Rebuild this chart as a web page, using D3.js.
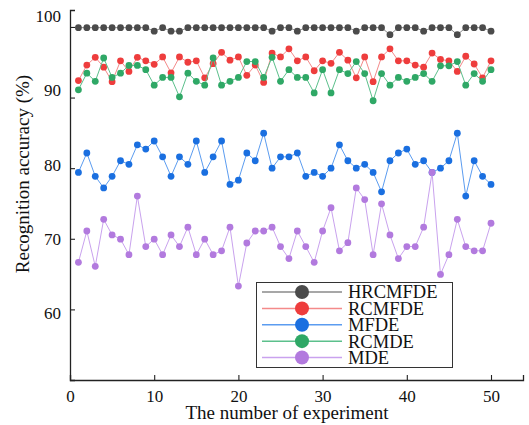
<!DOCTYPE html>
<html>
<head>
<meta charset="utf-8">
<script src="https://cdn.jsdelivr.net/npm/d3@7"></script>
<style>
  html, body { margin: 0; padding: 0; background: #fff; }
  svg { display: block; font-family: "Liberation Serif", "Times New Roman", serif; }
</style>
</head>
<body>
<svg id="chart" width="529" height="425"></svg>
<script>
// experiment index 1..50
const experiments = d3.range(1, 51);

const hrcmfde = [99.9, 99.9, 99.9, 99.9, 99.9, 99.9, 99.9, 99.9, 99.9, 99.4,
  99.9, 99.4, 99.4, 99.9, 99.9, 99.9, 99.9, 99.9, 99.9, 99.9,
  99.9, 99.9, 99.9, 99.4, 99.9, 99.9, 99.4, 99.9, 99.9, 99.9,
  99.9, 99.9, 99.9, 99.4, 99.9, 99.9, 99.9, 98.9, 99.9, 99.9,
  99.9, 99.4, 99.9, 99.9, 99.9, 98.9, 99.9, 99.9, 99.9, 99.4];

const rcmfde = [92.4, 94.6, 95.7, 94.3, 92.25, 95.2, 93.7, 95.7, 95.2, 94.7,
  95.75, 93.5, 95.75, 95.0, 95.2, 92.8, 94.8, 96.4, 95.3, 95.75,
  93.15, 94.6, 92.15, 96.3, 95.75, 96.9, 95.2, 95.75, 93.8, 95.2,
  94.85, 96.4, 95.3, 92.8, 95.75, 92.25, 95.75, 96.9, 95.2, 95.2,
  94.6, 94.3, 96.3, 95.4, 95.2, 93.7, 95.85, 94.75, 92.8, 95.2];

const mfde = [79.4, 82.15, 78.85, 77.2, 78.85, 81.05, 80.55, 83.3, 82.7, 83.85,
  81.6, 78.85, 81.6, 80.55, 83.85, 79.4, 81.6, 83.85, 77.7, 78.3,
  82.15, 81.05, 84.95, 80.0, 81.6, 81.6, 82.15, 78.85, 79.4, 78.85,
  80.0, 83.3, 81.05, 80.0, 80.55, 79.4, 76.65, 81.05, 82.15, 82.7,
  80.55, 81.05, 79.4, 80.0, 81.05, 84.95, 76.05, 81.05, 78.85, 77.7];

const rcmde = [91.1, 93.45, 92.3, 95.6, 92.85, 93.45, 94.55, 94.55, 93.95, 91.75,
  92.85, 92.85, 90.1, 93.45, 92.3, 91.75, 95.6, 91.75, 92.3, 92.85,
  95.1, 95.1, 92.85, 95.7, 92.3, 93.95, 92.85, 92.85, 90.65, 93.95,
  90.65, 93.95, 93.4, 95.1, 93.4, 89.55, 93.4, 91.75, 92.85, 92.3,
  92.85, 93.4, 92.3, 94.5, 94.5, 95.1, 91.75, 93.4, 92.3, 93.95];

const mde = [66.66, 71.1, 66.1, 72.75, 70.55, 69.95, 67.75, 76.05, 68.9, 69.95,
  67.75, 70.55, 68.9, 71.65, 67.75, 69.95, 67.75, 68.3, 71.65, 63.3,
  69.4, 71.1, 71.1, 71.65, 68.9, 67.2, 71.1, 68.9, 66.66, 71.1,
  74.4, 68.3, 69.45, 77.2, 75.55, 67.75, 74.95, 70.55, 67.2, 68.9,
  68.9, 71.65, 79.4, 64.95, 67.75, 72.75, 68.9, 68.3, 68.3, 72.2];

const seriesNames = ["HRCMFDE", "RCMFDE", "MFDE", "RCMDE", "MDE"];
const seriesValues = [hrcmfde, rcmfde, mfde, rcmde, mde];
const markerColors = ["#4b4b4b", "#ee3d3d", "#1a6fe0", "#2fa866", "#b27ade"];
const lineColors = ["#8a8a8a", "#f48a8a", "#5b9cf0", "#5cc08c", "#c9a2ee"];

const xTicks = [0, 10, 20, 30, 40, 50];
const yTicks = [60, 70, 80, 90, 100];

const svg = d3.select("#chart");

const x = d3.scaleLinear().domain([0, 53.8]).range([70, 523]);
const y = d3.scaleLinear().domain([50, 102.4]).range([380, 10]);
// tick labels in the original sit on a slightly different spacing than the ticks
const yLab = d3.scaleLinear().domain([60, 100]).range([313.3, 16.7]);

// axes (ticks point inward)
svg.append("g")
  .attr("transform", "translate(0,380)")
  .call(d3.axisBottom(x).tickValues(xTicks).tickSize(-5).tickPadding(10))
  .call(g => g.select(".domain").attr("stroke", "#222").attr("stroke-width", 1.3))
  .call(g => g.selectAll(".tick line").attr("stroke", "#222").attr("stroke-width", 1.1))
  .call(g => g.selectAll("text")
    .attr("fill", "#111")
    .style("font-size", "17px")
    .style("font-family", "'Liberation Serif', 'Times New Roman', serif"));

svg.append("g")
  .attr("transform", "translate(70,0)")
  .call(d3.axisLeft(y).tickValues(yTicks).tickSize(-5).tickFormat(""))
  .call(g => g.select(".domain").attr("stroke", "#222").attr("stroke-width", 1.3))
  .call(g => g.selectAll(".tick line").attr("stroke", "#222").attr("stroke-width", 1.1));

svg.append("g")
  .selectAll("text")
  .data(yTicks)
  .enter()
  .append("text")
  .attr("x", 61)
  .attr("y", d => yLab(d))
  .attr("dy", "0.33em")
  .attr("text-anchor", "end")
  .attr("fill", "#111")
  .style("font-size", "17px")
  .text(d => d);

// axis titles
svg.append("text")
  .attr("x", 287)
  .attr("y", 419)
  .attr("text-anchor", "middle")
  .attr("fill", "#111")
  .style("font-size", "19px")
  .text("The number of experiment");

svg.append("text")
  .attr("transform", "translate(29,174) rotate(-90)")
  .attr("text-anchor", "middle")
  .attr("fill", "#111")
  .style("font-size", "19px")
  .text("Recognition accuracy (%)");

// series: line first, then markers
const line = d3.line()
  .x((d, i) => x(experiments[i]))
  .y(d => y(d));

seriesValues.forEach((vals, s) => {
  svg.append("path")
    .datum(vals)
    .attr("fill", "none")
    .attr("stroke", lineColors[s])
    .attr("stroke-width", 1)
    .attr("d", line);

  svg.append("g")
    .selectAll("circle")
    .data(vals)
    .enter()
    .append("circle")
    .attr("cx", (d, i) => x(experiments[i]))
    .attr("cy", d => y(d))
    .attr("r", 3.4)
    .attr("fill", markerColors[s]);
});

// legend
const legend = svg.append("g");
legend.append("rect")
  .attr("x", 256.5)
  .attr("y", 282.5)
  .attr("width", 196)
  .attr("height", 85)
  .attr("fill", "#fff")
  .attr("stroke", "#333")
  .attr("stroke-width", 1);

const ly = d3.scalePoint().domain(seriesNames).range([292, 357.5]);

seriesNames.forEach((name, s) => {
  const row = legend.append("g").attr("transform", `translate(0,${ly(name)})`);
  row.append("line")
    .attr("x1", 262).attr("x2", 342)
    .attr("stroke", lineColors[s])
    .attr("stroke-width", 1.5);
  row.append("circle")
    .attr("cx", 302)
    .attr("r", 7)
    .attr("fill", markerColors[s]);
  row.append("text")
    .attr("x", 348)
    .attr("dy", "0.35em")
    .attr("fill", "#111")
    .style("font-size", "18.5px")
    .text(name);
});
</script>
</body>
</html>
